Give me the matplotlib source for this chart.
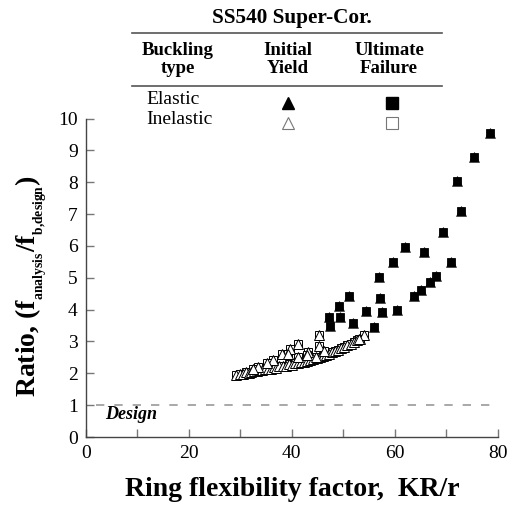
import matplotlib
matplotlib.use('Agg')
import matplotlib.pyplot as plt
from matplotlib.lines import Line2D

plt.rcParams['font.family'] = ['Liberation Serif', 'DejaVu Serif']
plt.rcParams['mathtext.fontset'] = 'custom'
plt.rcParams['mathtext.rm'] = 'Liberation Serif'
plt.rcParams['mathtext.bf'] = 'Liberation Serif:bold'

# Elastic buckling cases (filled markers)
elastic_x = [78.6, 75.4, 72.0, 72.8, 69.4, 61.9, 65.7, 70.9, 68.1, 66.8, 65.1, 63.8,
             59.6, 57.0, 51.2, 57.1, 54.5, 57.5, 60.5, 49.2, 47.3, 49.4, 51.8, 47.4, 56.0]
elastic_y = [9.54, 8.78, 8.03, 7.09, 6.45, 5.96, 5.80, 5.49, 5.07, 4.87, 4.62, 4.44,
             5.49, 5.01, 4.42, 4.37, 3.97, 3.94, 3.98, 4.11, 3.77, 3.77, 3.58, 3.48, 3.44]

# Inelastic buckling cases (open markers)
inelastic_x = [29.2, 29.9, 30.6, 31.0, 31.6, 32.1, 32.6, 33.2, 33.7, 34.2, 34.8, 35.3,
               35.9, 36.5, 37.0, 37.6, 38.2, 38.8, 39.4, 40.0, 40.6, 41.2, 41.8, 42.4,
               43.0, 43.6, 44.2, 44.8, 45.4, 46.0, 46.6, 47.2, 47.8, 48.4, 49.0, 49.6,
               50.2, 50.8, 51.4, 52.0, 52.6, 53.2, 54.1,
               36.4, 38.1, 39.6, 41.1, 45.2, 45.2, 46.2, 43.2, 44.6, 41.1, 39.3, 35.2,
               33.4, 53.0, 42.9, 32.5]
inelastic_y = [1.94, 1.97, 1.99, 2.03, 2.01, 2.05, 2.07, 2.06, 2.11, 2.09, 2.13, 2.15,
               2.14, 2.19, 2.18, 2.22, 2.24, 2.23, 2.28, 2.27, 2.32, 2.31, 2.36, 2.35,
               2.40, 2.42, 2.45, 2.48, 2.50, 2.55, 2.58, 2.62, 2.66, 2.70, 2.74, 2.79,
               2.83, 2.88, 2.93, 2.98, 3.03, 3.09, 3.20,
               2.41, 2.62, 2.77, 2.92, 3.21, 2.85, 2.69, 2.66, 2.51, 2.52, 2.60, 2.32,
               2.19, 3.08, 2.57, 2.15]

design_ratio = 1.0

W, H = 515, 505
fig = plt.figure(figsize=(W / 100, H / 100), dpi=100)
ax = fig.add_axes([86 / W, 1 - 437 / H, 411.7 / W, 318.5 / H])

# each case carries both an initial-yield and an ultimate-failure marker
ax.plot(elastic_x, elastic_y, '^', ms=7, mfc='black', mec='#444444', mew=0.6, clip_on=False)
ax.plot(elastic_x, elastic_y, 's', ms=5.5, mfc='black', mec='black', mew=0.6, clip_on=False)
ax.plot(inelastic_x, inelastic_y, 's', ms=5.5, mfc='white', mec='black', mew=0.7)
ax.plot(inelastic_x, inelastic_y, '^', ms=6.5, mfc='white', mec='black', mew=0.7)

ax.plot([2, 80], [design_ratio, design_ratio], ls=(0, (5, 6)), color='#999999', lw=1.2)
ax.text(3.7, 0.72, 'Design', fontsize=13, fontweight='bold', fontstyle='italic',
        va='center', ha='left')

ax.set_xlim(0, 80)
ax.set_ylim(0, 10)
ax.set_xticks(range(0, 81, 20))
ax.set_xticks(range(10, 80, 20), minor=True)
ax.set_yticks(range(0, 11))
for s in ['top', 'right']:
    ax.spines[s].set_visible(False)
for s in ['left', 'bottom']:
    ax.spines[s].set_color('#444444')
    ax.spines[s].set_linewidth(1.0)
ax.tick_params(which='both', direction='in', length=6, width=1.0, color='#777777',
               labelsize=14, pad=6)

ax.set_xlabel('Ring flexibility factor,  KR/r', fontsize=20, fontweight='bold')
ax.xaxis.set_label_coords(0.5, -0.125)
ax.set_ylabel(r'Ratio, (f$_{_{\mathbf{analysis}}}$/f$_{_{\mathbf{b{,}design}}}$)',
              fontsize=20, fontweight='bold')
ax.yaxis.set_label_coords(-0.09, 0.474)

# legend table above the plot
def fx(px):
    return px / W

def fy(py):
    return 1 - py / H

fig.text(fx(292), fy(17.5), 'SS540 Super-Cor.', fontsize=15.3, fontweight='bold',
         ha='center', va='center')
for py in [32.5, 86]:
    fig.add_artist(Line2D([fx(132), fx(442)], [fy(py), fy(py)], color='#555555', lw=1.2))
for cx, head in [(178, 'Buckling\ntype'), (288, 'Initial\nYield'), (389, 'Ultimate\nFailure')]:
    fig.text(fx(cx), fy(59.5), head, fontsize=13.5, fontweight='bold',
             ha='center', va='center', linespacing=1.1)
fig.text(fx(146), fy(100), 'Elastic', fontsize=14, ha='left', va='center')
fig.text(fx(146), fy(119), 'Inelastic', fontsize=14, ha='left', va='center')

fig.add_artist(Line2D([fx(288)], [fy(102.5)], marker='^', ms=8, mfc='black', mec='black',
                      transform=fig.transFigure))
fig.add_artist(Line2D([fx(391.5)], [fy(102.5)], marker='s', ms=8.5, mfc='black', mec='black',
                      transform=fig.transFigure))
fig.add_artist(Line2D([fx(288)], [fy(123)], marker='^', ms=8, mfc='white', mec='#777777',
                      mew=0.8, transform=fig.transFigure))
fig.add_artist(Line2D([fx(391.5)], [fy(123)], marker='s', ms=8.5, mfc='white', mec='#777777',
                      mew=0.8, transform=fig.transFigure))

fig.savefig('out.png', dpi=100)
